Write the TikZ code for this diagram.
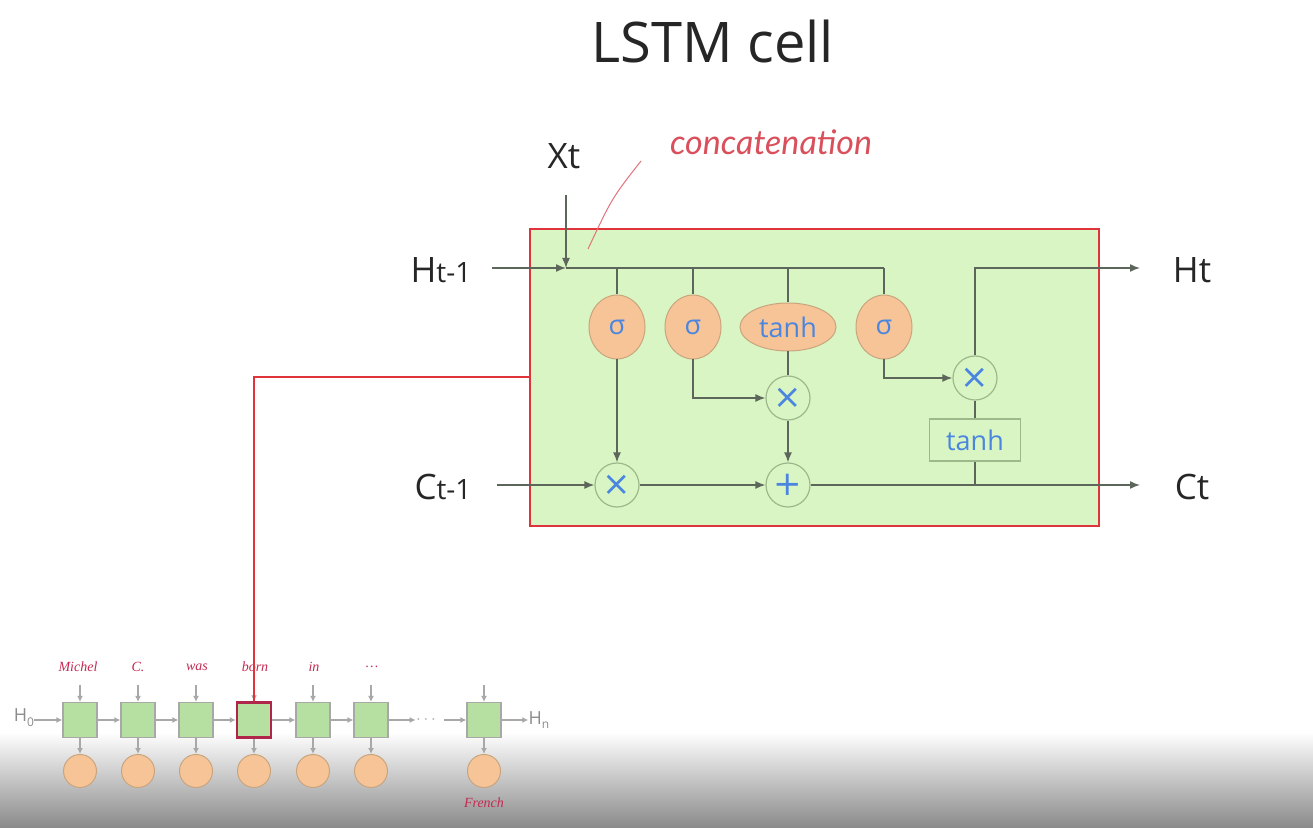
\documentclass[tikz,border=0pt]{standalone}
\usepackage{fontspec}
\setmainfont{Open Sans}
\newfontfamily\wordfont{Liberation Serif}
\newfontfamily\handfont{Lato}
\newfontfamily\symfont{DejaVu Sans}
\usetikzlibrary{arrows.meta,shapes.geometric,calc}

\definecolor{cellgreen}{HTML}{D9F5C3}
\definecolor{cellred}{HTML}{E0343C}
\definecolor{wire}{HTML}{5C665A}
\definecolor{gatefill}{HTML}{F6C497}
\definecolor{gatedraw}{HTML}{C9A57E}
\definecolor{opblue}{HTML}{4A86E0}
\definecolor{opdraw}{HTML}{9DB98C}
\definecolor{chainbox}{HTML}{B5E0A2}
\definecolor{chaingray}{HTML}{A8A8A8}
\definecolor{wordred}{HTML}{C42A52}
\definecolor{handred}{HTML}{D9505C}

\tikzset{
  wireline/.style={draw=wire, line width=0.75pt},
  wirearrow/.style={wireline, -{Latex[length=5pt,width=4pt]}},
  gate/.style={ellipse, draw=gatedraw, fill=gatefill, line width=0.5pt,
    text=opblue, font=\fontsize{13.5}{14}\selectfont, inner sep=0pt},
  opnode/.style={circle, draw=opdraw, fill=cellgreen, line width=0.6pt,
    text=opblue, minimum size=22pt, inner sep=0pt,
    font=\symfont\fontsize{17}{17}\selectfont},
  tanhbox/.style={rectangle, draw=opdraw, fill=cellgreen, line width=0.6pt,
    text=opblue, minimum width=45.5pt, minimum height=21pt, inner sep=0pt,
    font=\fontsize{13.5}{14}\selectfont},
  iolabel/.style={text=black!85, font=\fontsize{17.5}{18}\selectfont, inner sep=0pt},
  cellbox/.style={rectangle, draw=cellred, fill=cellgreen, line width=1pt,
    minimum width=284.5pt, minimum height=148.5pt, inner sep=0pt},
  linkline/.style={draw=cellred, line width=1pt},
  sbox/.style={rectangle, draw=chaingray, fill=chainbox, line width=0.6pt,
    minimum width=17pt, minimum height=17.5pt, inner sep=0pt},
  sboxhl/.style={sbox, draw=wordred!90!black, line width=1.2pt},
  scirc/.style={circle, draw=gatedraw, fill=gatefill, line width=0.5pt,
    minimum size=16.5pt, inner sep=0pt},
  sarrow/.style={draw=chaingray, line width=0.6pt, -{Latex[length=3pt,width=3pt]}},
  word/.style={text=wordred, font=\wordfont\itshape\fontsize{7}{7}\selectfont, inner sep=0pt},
  hlab/.style={text=black!45, font=\fontsize{9}{9}\selectfont, inner sep=0pt}
}

\begin{document}
\begin{tikzpicture}[x=0.5pt,y=-0.5pt]
  % page and bottom fade
  \useasboundingbox (0,0) rectangle (1313,828);
  \fill[white] (0,0) rectangle (1313,828);
  \shade[top color=white, bottom color=black!46] (0,732) rectangle (1313,828);

  % title
  \node[font=\fontsize{28}{28}\selectfont, text=black!85] (title) at (713,42) {LSTM cell};

  % cell body
  \node[cellbox] (cell) at (814.5,377.5) {};

  % gates
  \node[gate, minimum width=28pt, minimum height=32pt] (s1) at (617,327) {σ};
  \node[gate, minimum width=28pt, minimum height=32pt] (s2) at (693,327) {σ};
  \node[gate, minimum width=48pt, minimum height=24pt] (th) at (788,327) {tanh};
  \node[gate, minimum width=28pt, minimum height=32pt] (s3) at (884,327) {σ};

  % pointwise operations
  \node[opnode] (m1) at (617,485) {×};
  \node[opnode] (m2) at (788,398) {×};
  \node[opnode] (pl) at (788,485) {+};
  \node[opnode] (m3) at (975,378) {×};
  \node[tanhbox] (tb) at (975,440) {tanh};

  % outer labels
  \node[iolabel] (xt) at (564,156) {Xt};
  \node[iolabel] (ht1) at (441,270) {H{\fontsize{14}{14}\selectfont t-1}};
  \node[iolabel] (ct1) at (443,487) {C{\fontsize{14}{14}\selectfont t-1}};
  \node[iolabel] (ht) at (1192,270) {Ht};
  \node[iolabel] (ct) at (1192,487) {Ct};

  % wire end points
  \coordinate (xin) at (566,195);
  \coordinate (hin) at (492,268);
  \coordinate (hj) at (566,268);
  \coordinate (hend) at (884,268);
  \coordinate (hout) at (1140,268);
  \coordinate (cin) at (497,485);
  \coordinate (cout) at (1140,485);

  % hidden state and input
  \draw[wirearrow] (hin) -- (hj);
  \draw[wirearrow] (xin) -- (hj);
  \draw[wireline] (hj) -- (hend);
  \draw[wireline] (s1 |- hj) -- (s1.north);
  \draw[wireline] (s2 |- hj) -- (s2.north);
  \draw[wireline] (th |- hj) -- (th.north);
  \draw[wireline] (s3 |- hj) -- (s3.north);

  % gate paths
  \draw[wirearrow] (s1.south) -- (m1.north);
  \draw[wirearrow] (s2.south) |- (m2.west);
  \draw[wireline] (th.south) -- (m2.north);
  \draw[wirearrow] (m2.south) -- (pl.north);
  \draw[wirearrow] (s3.south) |- (m3.west);

  % cell state
  \draw[wirearrow] (cin) -- (m1.west);
  \draw[wirearrow] (m1.east) -- (pl.west);
  \draw[wirearrow] (pl.east) -- (cout);
  \draw[wireline] (m3 |- pl) -- (tb.south);
  \draw[wireline] (tb.north) -- (m3.south);
  \draw[wirearrow] (m3.north) |- (hout);

  % annotation
  \node[text=handred, font=\handfont\itshape\fontsize{17}{17}\selectfont, inner sep=0pt]
    (concat) at (771,142) {concatenation};
  \coordinate (cstart) at (641,161);
  \coordinate (cend) at (588,249);
  \draw[draw=handred!80, line width=0.5pt] (cstart) .. controls (612,198) .. (cend);

  % unrolled chain
  \foreach \i/\x in {1/80,2/138,3/196,5/313,6/371,7/484}{
    \node[sbox] (b\i) at (\x,720) {};
  }
  \node[sboxhl] (b4) at (254,720) {};
  \foreach \i/\x in {1/80,2/138,3/196,4/254,5/313,6/371,7/484}{
    \node[scirc] (o\i) at (\x,771) {};
    \coordinate (t\i) at (\x,685);
    \draw[sarrow] (t\i) -- (b\i.north);
    \draw[sarrow] (b\i.south) -- (o\i.north);
  }
  \node[word] (w1) at (78,667) {Michel};
  \node[word] (w2) at (138,667) {C.};
  \node[word] (w3) at (197,667) {was};
  \node[word] (w4) at (255,667) {born};
  \node[word] (w5) at (314,667) {in};
  \node[word] (w6) at (372,667) {\dots};
  \node[word] (w7) at (484,803) {French};

  \node[hlab] (h0) at (24,718) {H\raisebox{-0.5ex}{\fontsize{6}{6}\selectfont 0}};
  \node[hlab] (hn) at (539,720) {H\raisebox{-0.5ex}{\fontsize{6}{6}\selectfont n}};
  \node[text=chaingray, font=\fontsize{8}{8}\selectfont, inner sep=0pt] (dots) at (426,720) {$\cdots$};

  \draw[sarrow] (h0.east |- b1) -- (b1.west);
  \foreach \a/\b in {1/2,2/3,3/4,4/5,5/6}{
    \draw[sarrow] (b\a.east) -- (b\b.west);
  }
  \draw[sarrow] (b6.east) -- (dots.west |- b6);
  \coordinate (dotsout) at (444,720);
  \draw[sarrow] (dotsout) -- (b7.west);
  \draw[sarrow] (b7.east) -- (hn.west |- b7);

  % link from the chain to the cell
  \draw[linkline] (cell.west) -| (b4.north);
\end{tikzpicture}
\end{document}
